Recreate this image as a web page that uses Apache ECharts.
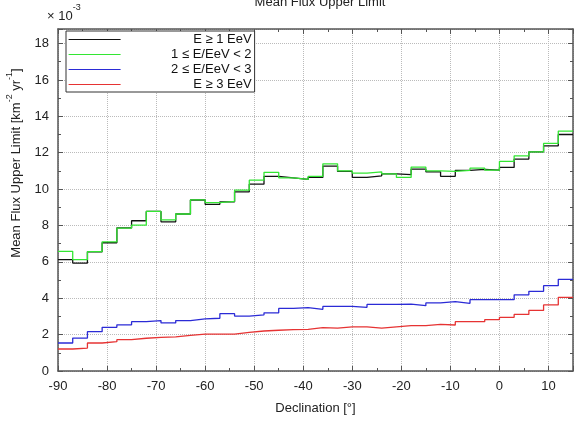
<!DOCTYPE html>
<html>
<head>
<meta charset="utf-8">
<script src="https://cdn.jsdelivr.net/npm/echarts@6/dist/echarts.min.js"></script>
<style>
  html, body { margin: 0; padding: 0; background: #fff; }
  #chart { width: 576px; height: 423px; }
</style>
</head>
<body>
<div id="chart"></div>
<script>
// bin edges in declination (3 deg bins)
var edges = [-90, -87, -84, -81, -78, -75, -72, -69, -66, -63, -60, -57, -54, -51, -48, -45, -42, -39,
  -36, -33, -30, -27, -24, -21, -18, -15, -12, -9, -6, -3, 0, 3, 6, 9, 12, 15];

// mean flux upper limit, units of 1e-3 km^-2 yr^-1
var fluxAll = [6.12, 5.93, 6.55, 7.05, 7.87, 8.26, 8.77, 8.2, 8.63, 9.4, 9.16, 9.3, 9.85, 10.27, 10.7, 10.62, 10.53, 10.64,
  11.26, 10.97, 10.64, 10.73, 10.84, 10.8, 11.1, 10.95, 10.7, 11.03, 11.08, 11.04, 11.19, 11.65, 12.05, 12.38, 13.0];
var flux1to2 = [6.58, 6.12, 6.56, 7.1, 7.85, 8.02, 8.77, 8.31, 8.63, 9.41, 9.26, 9.33, 9.94, 10.49, 10.92, 10.62, 10.53, 10.7,
  11.39, 11.0, 10.88, 10.95, 10.84, 10.64, 11.21, 11.0, 10.97, 11.03, 11.15, 11.04, 11.52, 11.83, 12.05, 12.51, 13.19];
var flux2to3 = [1.54, 1.81, 2.16, 2.4, 2.54, 2.71, 2.77, 2.64, 2.77, 2.86, 2.9, 3.15, 3.02, 3.09, 3.2, 3.44, 3.48, 3.39,
  3.55, 3.55, 3.5, 3.66, 3.66, 3.68, 3.59, 3.74, 3.81, 3.72, 3.92, 3.92, 3.92, 4.19, 4.38, 4.69, 5.04];
var flux3up = [1.21, 1.26, 1.54, 1.61, 1.72, 1.8, 1.85, 1.88, 1.96, 2.03, 2.03, 2.03, 2.12, 2.2, 2.24, 2.27, 2.29, 2.38,
  2.36, 2.43, 2.43, 2.36, 2.43, 2.49, 2.49, 2.56, 2.53, 2.71, 2.71, 2.82, 2.95, 3.11, 3.33, 3.63, 4.05];

var names = ['E \u2265 1 EeV', '1 \u2264 E/EeV < 2', '2 \u2264 E/EeV < 3', 'E \u2265 3 EeV'];
var colors = ['#111111', '#33e633', '#2b2bd6', '#e63333'];

// histogram -> step points (last value repeated at the upper edge)
function steps(vals) {
  var pts = [];
  for (var i = 0; i < vals.length; i++) pts.push([edges[i], vals[i]]);
  pts.push([edges[edges.length - 1], vals[vals.length - 1]]);
  return pts;
}

var font = 'Liberation Sans, Arial, sans-serif';
var frame = '#555';

function xAx(top) {
  return {
    type: 'value', min: -90, max: 15, interval: 10,
    position: top ? 'top' : 'bottom',
    axisLine: { show: true, onZero: false, lineStyle: { color: frame, width: 1.5 } },
    axisTick: { show: true, inside: true, length: 5, lineStyle: { color: frame } },
    minorTick: { show: true, splitNumber: 2, length: 3, lineStyle: { color: frame } },
    axisLabel: top ? { show: false } : { fontSize: 13, color: '#222', fontFamily: font, margin: 9, showMaxLabel: false },
    splitLine: top ? { show: false } : { show: true, lineStyle: { type: 'dotted', color: '#bbb' } },
    name: top ? '' : 'Declination [\u00b0]',
    nameLocation: 'middle', nameGap: 31,
    nameTextStyle: { fontSize: 13, color: '#222', fontFamily: font }
  };
}
function yAx(right) {
  return {
    type: 'value', min: 0, max: 18.8, interval: 2,
    position: right ? 'right' : 'left',
    axisLine: { show: true, onZero: false, lineStyle: { color: frame, width: 1.5 } },
    axisTick: { show: true, inside: true, length: 5, lineStyle: { color: frame } },
    minorTick: { show: true, splitNumber: 2, length: 3, lineStyle: { color: frame } },
    axisLabel: right ? { show: false } : { fontSize: 13, color: '#222', fontFamily: font, margin: 9, showMaxLabel: false },
    splitLine: right ? { show: false } : { show: true, lineStyle: { type: 'dotted', color: '#bbb' } }
  };
}

var series = [fluxAll, flux1to2, flux2to3, flux3up].map(function (v, i) {
  return {
    name: names[i], type: 'line', step: 'end', symbol: 'none',
    data: steps(v),
    lineStyle: { color: colors[i], width: 1.3 },
    itemStyle: { color: colors[i] }
  };
});

var chart = echarts.init(document.getElementById('chart'));
chart.setOption({
  animation: false,
  backgroundColor: '#fff',
  title: {
    text: 'Mean Flux Upper Limit', left: 315, top: -9, textAlign: 'center',
    textStyle: { fontSize: 13, fontWeight: 'normal', color: '#222', fontFamily: font }
  },
  grid: { left: 58, right: 3, top: 29, bottom: 52 },
  xAxis: [xAx(false), xAx(true)],
  yAxis: [yAx(false), yAx(true)],
  legend: {
    orient: 'vertical', left: 66, top: 31,
    itemWidth: 52, itemHeight: 12, itemGap: 2,
    padding: [2, 3, 1, 2],
    backgroundColor: '#fff', borderColor: '#333', borderWidth: 1,
    itemStyle: { opacity: 0 },
    lineStyle: { width: 1.2 },
    formatter: function (name) { return '{t|' + name + '}'; },
    textStyle: {
      fontSize: 13, color: '#111', fontFamily: font,
      rich: { t: { fontSize: 13, color: '#111', fontFamily: font, width: 126, align: 'right' } }
    },
    data: names
  },
  graphic: [
    {
      type: 'text', left: 47, top: 3,
      style: {
        text: '{n|\u00d7 10}{s|-3}',
        rich: {
          n: { fontSize: 13, fill: '#222', fontFamily: font, lineHeight: 20, verticalAlign: 'bottom' },
          s: { fontSize: 9, fill: '#222', fontFamily: font, verticalAlign: 'top' }
        }
      }
    },
    {
      type: 'text', x: 14, y: 163, rotation: Math.PI / 2,
      style: {
        text: '{n|Mean Flux Upper Limit [km}{s|-2}{n| yr}{s|-1}{n|]}',
        align: 'center', verticalAlign: 'middle',
        rich: {
          n: { fontSize: 13, fill: '#222', fontFamily: font, lineHeight: 18, verticalAlign: 'bottom' },
          s: { fontSize: 9, fill: '#222', fontFamily: font, verticalAlign: 'top' }
        }
      }
    }
  ],
  series: series
});
</script>
</body>
</html>
